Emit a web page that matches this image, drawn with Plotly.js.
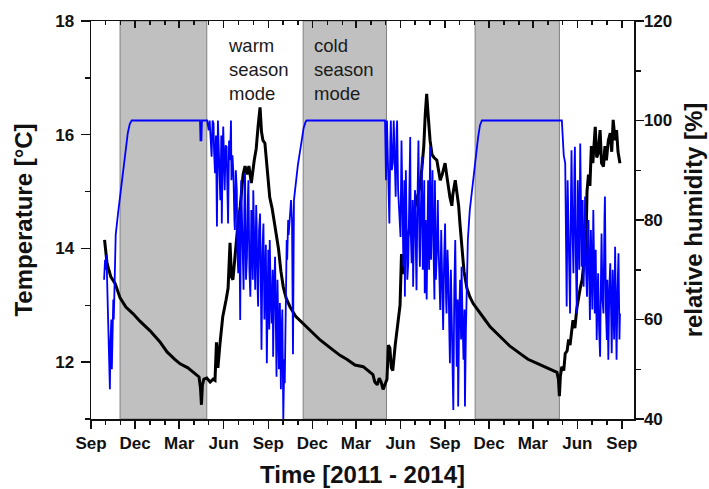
<!DOCTYPE html>
<html>
<head>
<meta charset="utf-8">
<script src="https://cdn.plot.ly/plotly-3.0.1.min.js"></script>
<style>html,body{margin:0;padding:0;background:#fff}</style>
</head>
<body>
<div id="chart" style="width:709px;height:489px"></div>
<script>
// ---- Temperature (black, left axis) ----
const tempDates = ['2011-09-29','2011-10-02','2011-10-04','2011-10-07','2011-10-12','2011-10-21','2011-10-31','2011-11-12','2011-11-27','2011-12-11',
'2012-01-01','2012-01-21','2012-02-05','2012-02-21','2012-03-03','2012-03-19','2012-04-03','2012-04-11','2012-04-14','2012-04-16',
'2012-04-18','2012-04-21','2012-04-27','2012-05-04','2012-05-10','2012-05-14','2012-05-17','2012-05-20','2012-05-24','2012-05-30',
'2012-06-06','2012-06-10','2012-06-14','2012-06-17','2012-06-20','2012-06-24','2012-06-30','2012-07-05','2012-07-11','2012-07-15',
'2012-07-19','2012-07-23','2012-07-28','2012-08-03','2012-08-07','2012-08-11','2012-08-15','2012-08-18','2012-08-21','2012-08-25',
'2012-08-29','2012-09-01','2012-09-04','2012-09-09','2012-09-15','2012-09-19','2012-09-22','2012-09-27','2012-10-02','2012-10-08',
'2012-10-16','2012-10-28','2012-11-12','2012-11-26','2012-12-17','2013-01-07','2013-01-27','2013-02-10','2013-02-27','2013-03-16',
'2013-03-30','2013-04-05','2013-04-09','2013-04-14','2013-04-18','2013-04-22','2013-04-26','2013-04-30','2013-05-04','2013-05-07',
'2013-05-10','2013-05-13','2013-05-16','2013-05-21','2013-05-25','2013-05-29','2013-05-31','2013-06-03','2013-06-06','2013-06-10',
'2013-06-14','2013-06-21','2013-06-27','2013-07-03','2013-07-11','2013-07-15','2013-07-19','2013-07-22','2013-07-25','2013-07-28',
'2013-08-01','2013-08-05','2013-08-09','2013-08-15','2013-08-22','2013-08-26','2013-09-01','2013-09-05','2013-09-08','2013-09-11',
'2013-09-15','2013-09-17','2013-09-22','2013-09-26','2013-09-29','2013-10-02','2013-10-06','2013-10-10','2013-10-16','2013-10-22',
'2013-10-29','2013-11-06','2013-11-12','2013-11-22','2013-12-03','2013-12-17','2013-12-30','2014-01-13','2014-02-03','2014-02-19',
'2014-03-10','2014-03-26','2014-04-12','2014-04-20','2014-04-23','2014-04-25','2014-04-27','2014-04-30','2014-05-04','2014-05-07',
'2014-05-11','2014-05-14','2014-05-17','2014-05-23','2014-05-27','2014-05-31','2014-06-07','2014-06-11','2014-06-15','2014-06-18',
'2014-06-21','2014-06-24','2014-06-27','2014-06-30','2014-07-03','2014-07-08','2014-07-11','2014-07-14','2014-07-18','2014-07-21',
'2014-07-25','2014-07-28','2014-07-31','2014-08-04','2014-08-08','2014-08-11','2014-08-14','2014-08-18','2014-08-21','2014-08-24',
'2014-08-28'];
const tempValues = [14.15,13.85,13.75,13.65,13.5,13.38,13.13,12.97,12.85,12.72,
12.55,12.36,12.18,12.05,11.97,11.9,11.8,11.74,11.55,11.25,
11.6,11.7,11.72,11.65,11.7,11.68,12.35,11.9,12.3,12.8,
13.1,13.3,14.1,13.5,13.45,13.85,14.4,14.73,15.3,15.45,
15.3,15.45,15.15,15.55,15.75,16.15,16.48,16.05,15.9,15.85,
15.5,15.25,14.9,14.7,14.35,14.2,14.0,13.6,13.32,13.12,
12.97,12.8,12.68,12.55,12.39,12.25,12.12,12.05,11.95,11.92,
11.82,11.78,11.65,11.6,11.72,11.65,11.52,11.62,11.7,12.3,
12.25,11.9,11.85,12.3,12.62,12.9,13.0,13.9,13.55,13.9,
14.15,14.4,14.6,14.8,15.08,15.4,15.8,16.35,16.72,16.35,
15.9,15.65,15.6,15.55,15.2,15.3,15.5,15.25,15.05,14.9,
14.75,14.95,15.2,14.95,14.75,14.4,14.0,13.6,13.3,13.15,
13.03,12.93,12.86,12.75,12.62,12.5,12.39,12.28,12.15,12.05,
11.98,11.92,11.86,11.82,11.7,11.4,11.75,11.92,11.85,12.15,
12.2,12.4,12.3,12.74,12.6,12.95,13.3,13.45,13.8,13.7,
15.0,15.3,15.1,15.8,15.5,16.14,15.6,15.67,16.08,15.5,
15.44,15.8,15.55,15.9,16.03,15.7,16.26,15.9,16.08,15.7,
15.5];

// ---- Relative humidity (blue, right axis) ----
const rhDates = [
// autumn 2011 and cold season 2011/12
'2011-09-28','2011-09-30','2011-10-02','2011-10-03','2011-10-05','2011-10-06','2011-10-07','2011-10-08','2011-10-10','2011-10-11',
'2011-10-13','2011-10-14','2011-10-15','2011-10-17','2011-10-18','2011-10-20','2011-10-22','2011-10-27','2011-10-31','2011-11-04',
'2011-11-08','2011-11-12','2011-11-16','2011-11-20','2011-11-24','2012-04-13','2012-04-14','2012-04-16','2012-04-17','2012-04-28',
// warm season 2012
'2012-05-01','2012-05-03','2012-05-05','2012-05-07','2012-05-09','2012-05-11','2012-05-12','2012-05-14','2012-05-16','2012-05-18',
'2012-05-20','2012-05-21','2012-05-23','2012-05-25','2012-05-27','2012-05-28','2012-05-30','2012-05-31','2012-06-02','2012-06-03',
'2012-06-05','2012-06-07','2012-06-09','2012-06-10','2012-06-12','2012-06-14','2012-06-16','2012-06-17','2012-06-19','2012-06-21',
'2012-06-23','2012-06-24','2012-06-26','2012-06-28','2012-06-29','2012-07-01','2012-07-03','2012-07-05','2012-07-07','2012-07-08',
'2012-07-10','2012-07-12','2012-07-14','2012-07-15','2012-07-17','2012-07-19','2012-07-21','2012-07-22','2012-07-24','2012-07-26',
'2012-07-28','2012-07-29','2012-07-31','2012-08-01','2012-08-03','2012-08-05','2012-08-07','2012-08-08','2012-08-10','2012-08-11',
'2012-08-13','2012-08-15','2012-08-17','2012-08-18','2012-08-20','2012-08-22','2012-08-24','2012-08-25','2012-08-27','2012-08-29',
'2012-08-31','2012-09-01','2012-09-03','2012-09-04','2012-09-06','2012-09-08','2012-09-10','2012-09-11','2012-09-13','2012-09-15',
'2012-09-17','2012-09-18','2012-09-20','2012-09-21','2012-09-23','2012-09-25','2012-09-27','2012-09-28','2012-09-30','2012-10-02',
'2012-10-04','2012-10-05','2012-10-07','2012-10-09','2012-10-10','2012-10-12','2012-10-13','2012-10-16','2012-10-18','2012-10-20',
'2012-10-22','2012-10-24','2012-10-26','2012-10-28','2012-11-01','2012-11-05','2012-11-09','2012-11-13','2012-11-17','2012-11-19',
'2013-04-30',
// warm season 2013
'2013-05-02','2013-05-04','2013-05-06','2013-05-09','2013-05-11','2013-05-12','2013-05-14','2013-05-16','2013-05-18','2013-05-20',
'2013-05-22','2013-05-24','2013-05-25','2013-05-27','2013-05-29','2013-06-01','2013-06-03','2013-06-05','2013-06-07','2013-06-09',
'2013-06-10','2013-06-12','2013-06-14','2013-06-15','2013-06-17','2013-06-19','2013-06-21','2013-06-22','2013-06-24','2013-06-26',
'2013-06-27','2013-06-29','2013-07-01','2013-07-03','2013-07-04','2013-07-06','2013-07-08','2013-07-10','2013-07-11','2013-07-13',
'2013-07-15','2013-07-17','2013-07-18','2013-07-20','2013-07-21','2013-07-23','2013-07-25','2013-07-27','2013-07-28','2013-07-30',
'2013-08-01','2013-08-03','2013-08-04','2013-08-06','2013-08-08','2013-08-10','2013-08-11','2013-08-13','2013-08-15','2013-08-17',
'2013-08-18','2013-08-20','2013-08-22','2013-08-24','2013-08-25','2013-08-27','2013-08-28','2013-08-30','2013-09-01','2013-09-03',
'2013-09-04','2013-09-06','2013-09-08','2013-09-10','2013-09-11','2013-09-13','2013-09-15','2013-09-17','2013-09-18','2013-09-20',
'2013-09-22','2013-09-24','2013-09-25','2013-09-27','2013-09-28','2013-09-30','2013-10-02','2013-10-04','2013-10-05','2013-10-07',
'2013-10-09','2013-10-11','2013-10-12','2013-10-14','2013-10-16','2013-10-18','2013-10-22','2013-10-27','2013-10-31','2013-11-04',
'2013-11-08','2013-11-12','2013-11-16','2014-04-30',
// warm season 2014
'2014-05-02','2014-05-04','2014-05-07','2014-05-08','2014-05-10','2014-05-12','2014-05-13','2014-05-15','2014-05-17','2014-05-19',
'2014-05-20','2014-05-22','2014-05-24','2014-05-26','2014-05-27','2014-05-29','2014-05-31','2014-06-02','2014-06-03','2014-06-05',
'2014-06-07','2014-06-09','2014-06-10','2014-06-12','2014-06-14','2014-06-16','2014-06-17','2014-06-19','2014-06-21','2014-06-23',
'2014-06-24','2014-06-26','2014-06-27','2014-06-29','2014-06-30','2014-07-02','2014-07-04','2014-07-05','2014-07-07','2014-07-09',
'2014-07-11','2014-07-13','2014-07-14','2014-07-16','2014-07-18','2014-07-20','2014-07-21','2014-07-23','2014-07-25','2014-07-27',
'2014-07-28','2014-07-30','2014-08-01','2014-08-02','2014-08-04','2014-08-06','2014-08-08','2014-08-10','2014-08-11','2014-08-13',
'2014-08-14','2014-08-16','2014-08-18','2014-08-20','2014-08-21','2014-08-23','2014-08-25','2014-08-27','2014-08-28'];
const rhValues = [
68,72,70,73,65,60,62,52,46,55,
60,50,58,64,60,72,77,81.5,84.5,87.5,
91,94.5,97.5,99.3,100,100,96,96,100,100,
98,100,95,92.7,100,99.4,94,89.4,97,78.7,
100,96,91.4,84,97,79.3,95,98.8,90,86,
95,94.7,84,79.3,96,92,100,88,93,89.4,
80,78,90,86,74,69.3,82,59.9,88,84,
70,66,86,89.4,68,72.6,85,88,70,64.6,
82,76,68,86,72,66,83,79.3,66,62.6,
78,81.3,64,53.9,74,79.3,60,68.6,75,51.2,
70,74,58,76,65,59.2,70,52.5,66,72.6,
56,48.5,68,59.2,50,63.3,46,55.9,62,40,
52,47.2,59.2,76,72,80,77,82.7,84,80,
53,84,86,88,91,93.5,96,98.5,99.7,100,
100,
88,100,92,79.3,96,100,90,91.4,100,88,
84.7,98,100,86,82.7,76.6,96,84,70.6,88,
64.6,90,80,68,71.3,92,96.7,78,71.3,84,
66.6,80,86,72,65.9,84,96,75,70.6,82,
92.7,70,79.3,88,65.3,80,64,82,88,70,
94.7,72,78,90,74.6,64,88,68,73.3,84,
76.6,66,61.9,78,70.6,62,57.9,72,79.3,64,
61.2,74,68,56,51.2,70,61.2,48,41.8,66,
76,58,50.5,64,42.5,60,68,56,70.6,60,
51.9,62,42.5,58,70.6,76,82,86.5,90,93.5,
96.5,99,100,100,
96.7,93,91.4,80,62.6,88,81.3,72,61.2,86,
94,78,69.3,90,94.7,72,61.2,88,81.3,70,
95.4,80,70.6,84,66.6,76,84.7,70,64.6,76,
80,66,59.9,78,72,62,82,70,61.2,74,
55.9,66,69.3,58,52.5,70,77.3,64,61.2,80,
84.7,62,55.9,68,51.9,66,71.3,60,53.2,70,
61.2,56,74.6,62,51.9,66,73.3,56,61.2];

// ---- Cold-season (grey) periods, axis ranges ----
const coldStart = ['2011-10-31','2012-11-12','2013-11-02'];
const coldEnd   = ['2012-04-27','2013-05-03','2014-04-25'];
const xRange = ['2011-09-01','2014-09-26'];
const tempRange = [11, 18];
const rhRange = [40, 120];

const axisColor = '#111';
const fam = 'Liberation Sans, Arial, sans-serif';
const bold = {family:fam, size:17, color:'#111', weight:'bold'};
const titleFont = {family:fam, size:24, color:'#111', weight:'bold'};

const traces = [
  {x: tempDates, y: tempValues, type:'scatter', mode:'lines', xaxis:'x', yaxis:'y',
   line:{color:'#000', width:3}, hoverinfo:'skip'},
  {x: rhDates, y: rhValues, type:'scatter', mode:'lines', xaxis:'x', yaxis:'y2',
   line:{color:'#0000ff', width:1.8}, hoverinfo:'skip'},
  {x: [tempDates[0]], y: [null], type:'scatter', mode:'lines', xaxis:'x2', yaxis:'y', hoverinfo:'skip'}
];

const shapes = coldStart.map((s, i) => ({
  type:'rect', xref:'x', yref:'paper', x0:s, x1:coldEnd[i], y0:0, y1:1,
  fillcolor:'#c0c0c0', line:{color:'#808080', width:1}, layer:'below'
}));

const layout = {
  width:709, height:489,
  margin:{l:91, r:75, t:21, b:70},
  paper_bgcolor:'#fff', plot_bgcolor:'#fff',
  showlegend:false,
  font:{family:fam, color:'#111'},
  xaxis:{type:'date', range:xRange, tickformat:'%b', dtick:'M3', tick0:'2011-09-01',
    ticks:'outside', ticklen:8, tickwidth:1.5, tickcolor:axisColor,
    showline:true, linecolor:axisColor, linewidth:1.5, showgrid:false, zeroline:false,
    tickfont:bold,
    minor:{dtick:'M1', tick0:'2011-09-01', ticks:'outside', ticklen:4, tickwidth:1.5, tickcolor:axisColor, showgrid:false},
    title:{text:'Time [2011 - 2014]', font:titleFont, standoff:14}},
  xaxis2:{type:'date', range:xRange, overlaying:'x', side:'top', anchor:'y', dtick:'M3', tick0:'2011-09-01',
    ticks:'inside', ticklen:7, tickwidth:1.5, tickcolor:axisColor, showticklabels:false,
    showline:true, linecolor:axisColor, linewidth:1.5, showgrid:false, zeroline:false,
    minor:{dtick:'M1', tick0:'2011-09-01', ticks:'inside', ticklen:3.5, tickwidth:1.5, tickcolor:axisColor, showgrid:false}},
  yaxis:{range:tempRange, dtick:2, tick0:0, ticks:'outside', ticklen:9, tickwidth:1.5, tickcolor:axisColor,
    showline:true, linecolor:axisColor, linewidth:1.5, showgrid:false, zeroline:false, tickfont:bold,
    ticklabelstandoff:3,
    minor:{dtick:1, ticks:'outside', ticklen:5, tickwidth:1.5, tickcolor:axisColor, showgrid:false},
    title:{text:'Temperature [°C]', font:titleFont, standoff:16}},
  yaxis2:{range:rhRange, dtick:20, tick0:0, overlaying:'y', side:'right', anchor:'x',
    ticks:'outside', ticklen:8, tickwidth:1.5, tickcolor:axisColor,
    showline:true, linecolor:axisColor, linewidth:1.5, showgrid:false, zeroline:false, tickfont:bold,
    ticklabelstandoff:-3,
    minor:{dtick:10, ticks:'outside', ticklen:5, tickwidth:1.5, tickcolor:axisColor, showgrid:false},
    title:{text:'relative humidity [%]', font:titleFont, standoff:14}},
  shapes: shapes,
  annotations:[
    {xref:'paper', yref:'paper', x:0.2485, y:0.877, xanchor:'left', yanchor:'middle', align:'left', showarrow:false,
     text:'warm<br>season<br>mode', font:{family:fam, size:18.5, color:'#1a1a1a'}},
    {xref:'paper', yref:'paper', x:0.4065, y:0.877, xanchor:'left', yanchor:'middle', align:'left', showarrow:false,
     text:'cold<br>season<br>mode', font:{family:fam, size:18.5, color:'#1a1a1a'}}
  ]
};

Plotly.newPlot('chart', traces, layout, {staticPlot:true, displayModeBar:false});
</script>
</body>
</html>
